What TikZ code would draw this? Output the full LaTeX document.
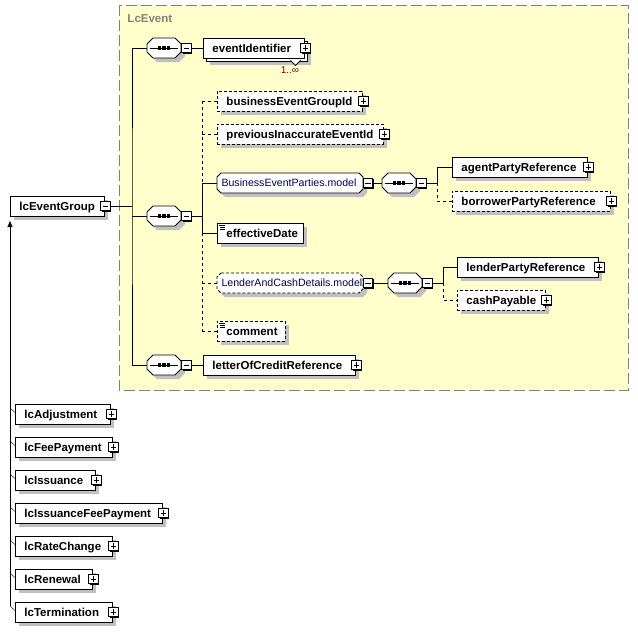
\documentclass[tikz,border=0pt]{standalone}
\usepackage{fontspec}
\setmainfont{Liberation Sans}
\usetikzlibrary{shadows,backgrounds,arrows.meta}
\definecolor{yel}{RGB}{255,255,204}
\definecolor{frame}{RGB}{128,128,128}
\definecolor{shad}{RGB}{192,192,192}
\definecolor{occ}{RGB}{128,0,0}
\definecolor{grp}{RGB}{0,0,96}

\newcommand\octo[5]{%
  \fill[shad,shift={(4pt,-4pt)}] (#1+#4,#3-10) -- (#2-#4,#3-10) -- (#2,#3-10+#4) -- (#2,#3+10-#4) -- (#2-#4,#3+10) -- (#1+#4,#3+10) -- (#1,#3+10-#4) -- (#1,#3-10+#4) -- cycle;
  \filldraw[fill=white,#5] (#1+#4,#3-10) -- (#2-#4,#3-10) -- (#2,#3-10+#4) -- (#2,#3+10-#4) -- (#2-#4,#3+10) -- (#1+#4,#3+10) -- (#1,#3+10-#4) -- (#1,#3-10+#4) -- cycle;}

\newcommand\comp[3]{%
  \octo{#2}{#2+34}{#3}{6}{}
  \node[draw=none, minimum width=34pt, minimum height=20pt, inner sep=0pt] (#1) at (#2+17,#3) {};
  \draw[line width=1pt] (#2+3,#3) -- (#2+31,#3);
  \foreach \dx in {-4.8,0,4.8} \fill (#2+17+\dx-1.6,#3-1.6) rectangle ++(3.2,3.2);
  \node[minusbox] (#1m) at (#2+39.5,#3) {};}

\newcommand\grp[6]{%
  \octo{#2}{#3}{#4}{4}{#6}
  \node[draw=none, minimum width={(#3-#2)*1pt}, minimum height=20pt, inner sep=0pt] (#1) at ({(#2+#3)/2},#4) {};
  \node[glbl] (#1t) at ([xshift=4.5pt,yshift=-3.8pt]#1.west) {#5};
  \node[minusbox] (#1m) at (#3+5,#4) {};}

\newcommand\elem[6]{%
  \node[#1, minimum width=#4pt] (#2) at (#3,#5) {};
  \node[lbl] (#2t) at ([xshift=9pt,yshift=-4.3pt]#2.west) {#6};}
\newcommand\pl[1]{\node[plusbox] (#1p) at ([xshift=0.5pt]#1.east) {};}
\newcommand\icon[1]{\draw[line width=0.7pt] ([xshift=2pt,yshift=-2.5pt]#1.north west) -- ++(6,0) ([xshift=3pt,yshift=-4.5pt]#1.north west) -- ++(5,0) ([xshift=3pt,yshift=-6.5pt]#1.north west) -- ++(5,0);}

\begin{document}
\begin{tikzpicture}[x=1pt,y=-1pt,line width=0.95pt,
  boxns/.style={draw, fill=white, inner sep=0pt, minimum height=20pt, anchor=west},
  box/.style={boxns, general shadow={fill=shad, shadow xshift=4pt, shadow yshift=-4pt}},
  optd/.style={dash pattern=on 3pt off 2pt},
  optbox/.style={box, optd},
  cdash/.style={dash pattern=on 3pt off 3pt},
  lbl/.style={font=\fontsize{11.5}{13}\selectfont\bfseries, inner sep=0pt, anchor=base west},
  glbl/.style={font=\fontsize{10.6}{13}\selectfont, text=grp, inner sep=0pt, anchor=base west},
  pmbox/.style={draw, fill=white, minimum size=9.5pt, inner sep=0pt, line width=1pt,
    general shadow={fill=black, shadow xshift=1pt, shadow yshift=-1pt}},
  minusbox/.style={pmbox, path picture={\draw[line width=1pt] ([xshift=2pt]path picture bounding box.west) -- ([xshift=-2pt]path picture bounding box.east);}},
  plusbox/.style={pmbox, path picture={\draw[line width=1pt] ([xshift=2pt]path picture bounding box.west) -- ([xshift=-2pt]path picture bounding box.east); \draw[line width=1pt] ([yshift=-2pt]path picture bounding box.north) -- ([yshift=2pt]path picture bounding box.south);}}
]
\useasboundingbox (0,0) rectangle (638,632);

\node[font=\fontsize{11.5}{13}\selectfont\bfseries, text=frame, inner sep=0pt, anchor=base west] (lcev) at (127,22.5) {LcEvent};

% root
\elem{box}{lceg}{10}{94}{206}{lcEventGroup}
\node[minusbox] (lcegm) at ([xshift=0.5pt]lceg.east) {};

% compositors
\comp{c1}{147}{48}
\comp{c2}{147}{216}
\comp{c3}{147}{365}

% eventIdentifier (stacked)
\node[box, minimum width=101pt] (eib) at (206,51) {};
\filldraw[fill=white, line width=0.8pt] (290.5,60.5) -- (295.5,65.5) -- (300.5,60.5);
\node[boxns, minimum width=101pt] (ei) at (203,48) {};
\node[lbl] (eit) at ([xshift=9pt,yshift=-4.3pt]ei.west) {eventIdentifier};
\pl{ei}
\node[font=\fontsize{10}{12}\selectfont, text=occ, inner sep=0pt] (eio) at (290,70.5) {1..∞};

\elem{optbox}{bgid}{217}{145}{101}{businessEventGroupId}\pl{bgid}
\elem{optbox}{pie}{217}{166}{134}{previousInaccurateEventId}\pl{pie}
\grp{bep}{217}{363}{183}{BusinessEventParties.model}{}
\elem{box}{eff}{217}{86}{233}{effectiveDate}\icon{eff}
\grp{lcd}{217}{363}{283}{LenderAndCashDetails.model}{optd}
\elem{optbox}{com}{217}{68}{331}{comment}\icon{com}
\elem{box}{locr}{203}{152}{365}{letterOfCreditReference}\pl{locr}

\comp{cb}{382}{183}
\comp{cl}{388}{283}
\elem{box}{apr}{452}{135}{167}{agentPartyReference}\pl{apr}
\elem{optbox}{bpr}{452}{158}{201}{borrowerPartyReference}\pl{bpr}
\elem{box}{lpr}{457}{141}{267}{lenderPartyReference}\pl{lpr}
\elem{optbox}{cp}{457}{88}{300}{cashPayable}\pl{cp}

% derived types
\elem{box}{adj}{15}{95}{414}{lcAdjustment}\pl{adj}
\elem{box}{fee}{15}{97}{447}{lcFeePayment}\pl{fee}
\elem{box}{iss}{15}{80}{480}{lcIssuance}\pl{iss}
\elem{box}{ifp}{15}{147}{513}{lcIssuanceFeePayment}\pl{ifp}
\elem{box}{rc}{15}{97}{546}{lcRateChange}\pl{rc}
\elem{box}{ren}{15}{77}{579}{lcRenewal}\pl{ren}
\elem{box}{term}{15}{97}{612}{lcTermination}\pl{term}

\coordinate (tA) at (132,206);
\coordinate (v2) at (202,216);
\coordinate (vb) at (437,183);
\coordinate (vl) at (443,283);
\coordinate (atip) at (10,221);
\coordinate (aend) at (10,606);

\begin{scope}[on background layer]
  \draw[frame, fill=yel, dash pattern=on 11pt off 4pt, line width=1pt] (119,5) rectangle (628,390);
  % root to compositors
  \draw (lcegm.east) -- (tA);
  \draw (c1.west) -| (tA) |- (c3.west);
  \draw (tA |- c2.west) -- (c2.west);
  \draw (c1m.east) -- (ei.west);
  \draw (c3m.east) -- (locr.west);
  % c2 children
  \draw (c2m.east) -- (v2);
  \draw[cdash] (v2 |- bgid.west) -- (v2 |- bep.west);
  \draw (v2 |- bep.west) -- (v2 |- eff.west);
  \draw[cdash] (v2 |- eff.west) -- (v2 |- com.west);
  \draw[cdash] (v2 |- bgid.west) -- (bgid.west);
  \draw[cdash] (v2 |- pie.west) -- (pie.west);
  \draw (v2 |- bep.west) -- (bep.west);
  \draw (v2 |- eff.west) -- (eff.west);
  \draw[cdash] (v2 |- lcd.west) -- (lcd.west);
  \draw[cdash] (v2 |- com.west) -- (com.west);
  % BusinessEventParties
  \draw (bepm.east) -- (cb.west);
  \draw (cbm.east) -- (vb);
  \draw (vb) -- (vb |- apr.west) -- (apr.west);
  \draw[cdash] (vb) -- (vb |- bpr.west) -- (bpr.west);
  % LenderAndCash
  \draw (lcdm.east) -- (cl.west);
  \draw (clm.east) -- (vl);
  \draw (vl) -- (vl |- lpr.west) -- (lpr.west);
  \draw[cdash] (vl) -- (vl |- cp.west) -- (cp.west);
  % derived
  \draw[-{Triangle[width=5pt,length=6pt]}] (aend) -- (atip);
  \foreach \n in {adj,fee,iss,ifp,rc,ren,term}
    \draw ([yshift=6pt]\n.west -| atip) -- ([yshift=1.5pt]\n.west);
\end{scope}
\end{tikzpicture}
\end{document}
